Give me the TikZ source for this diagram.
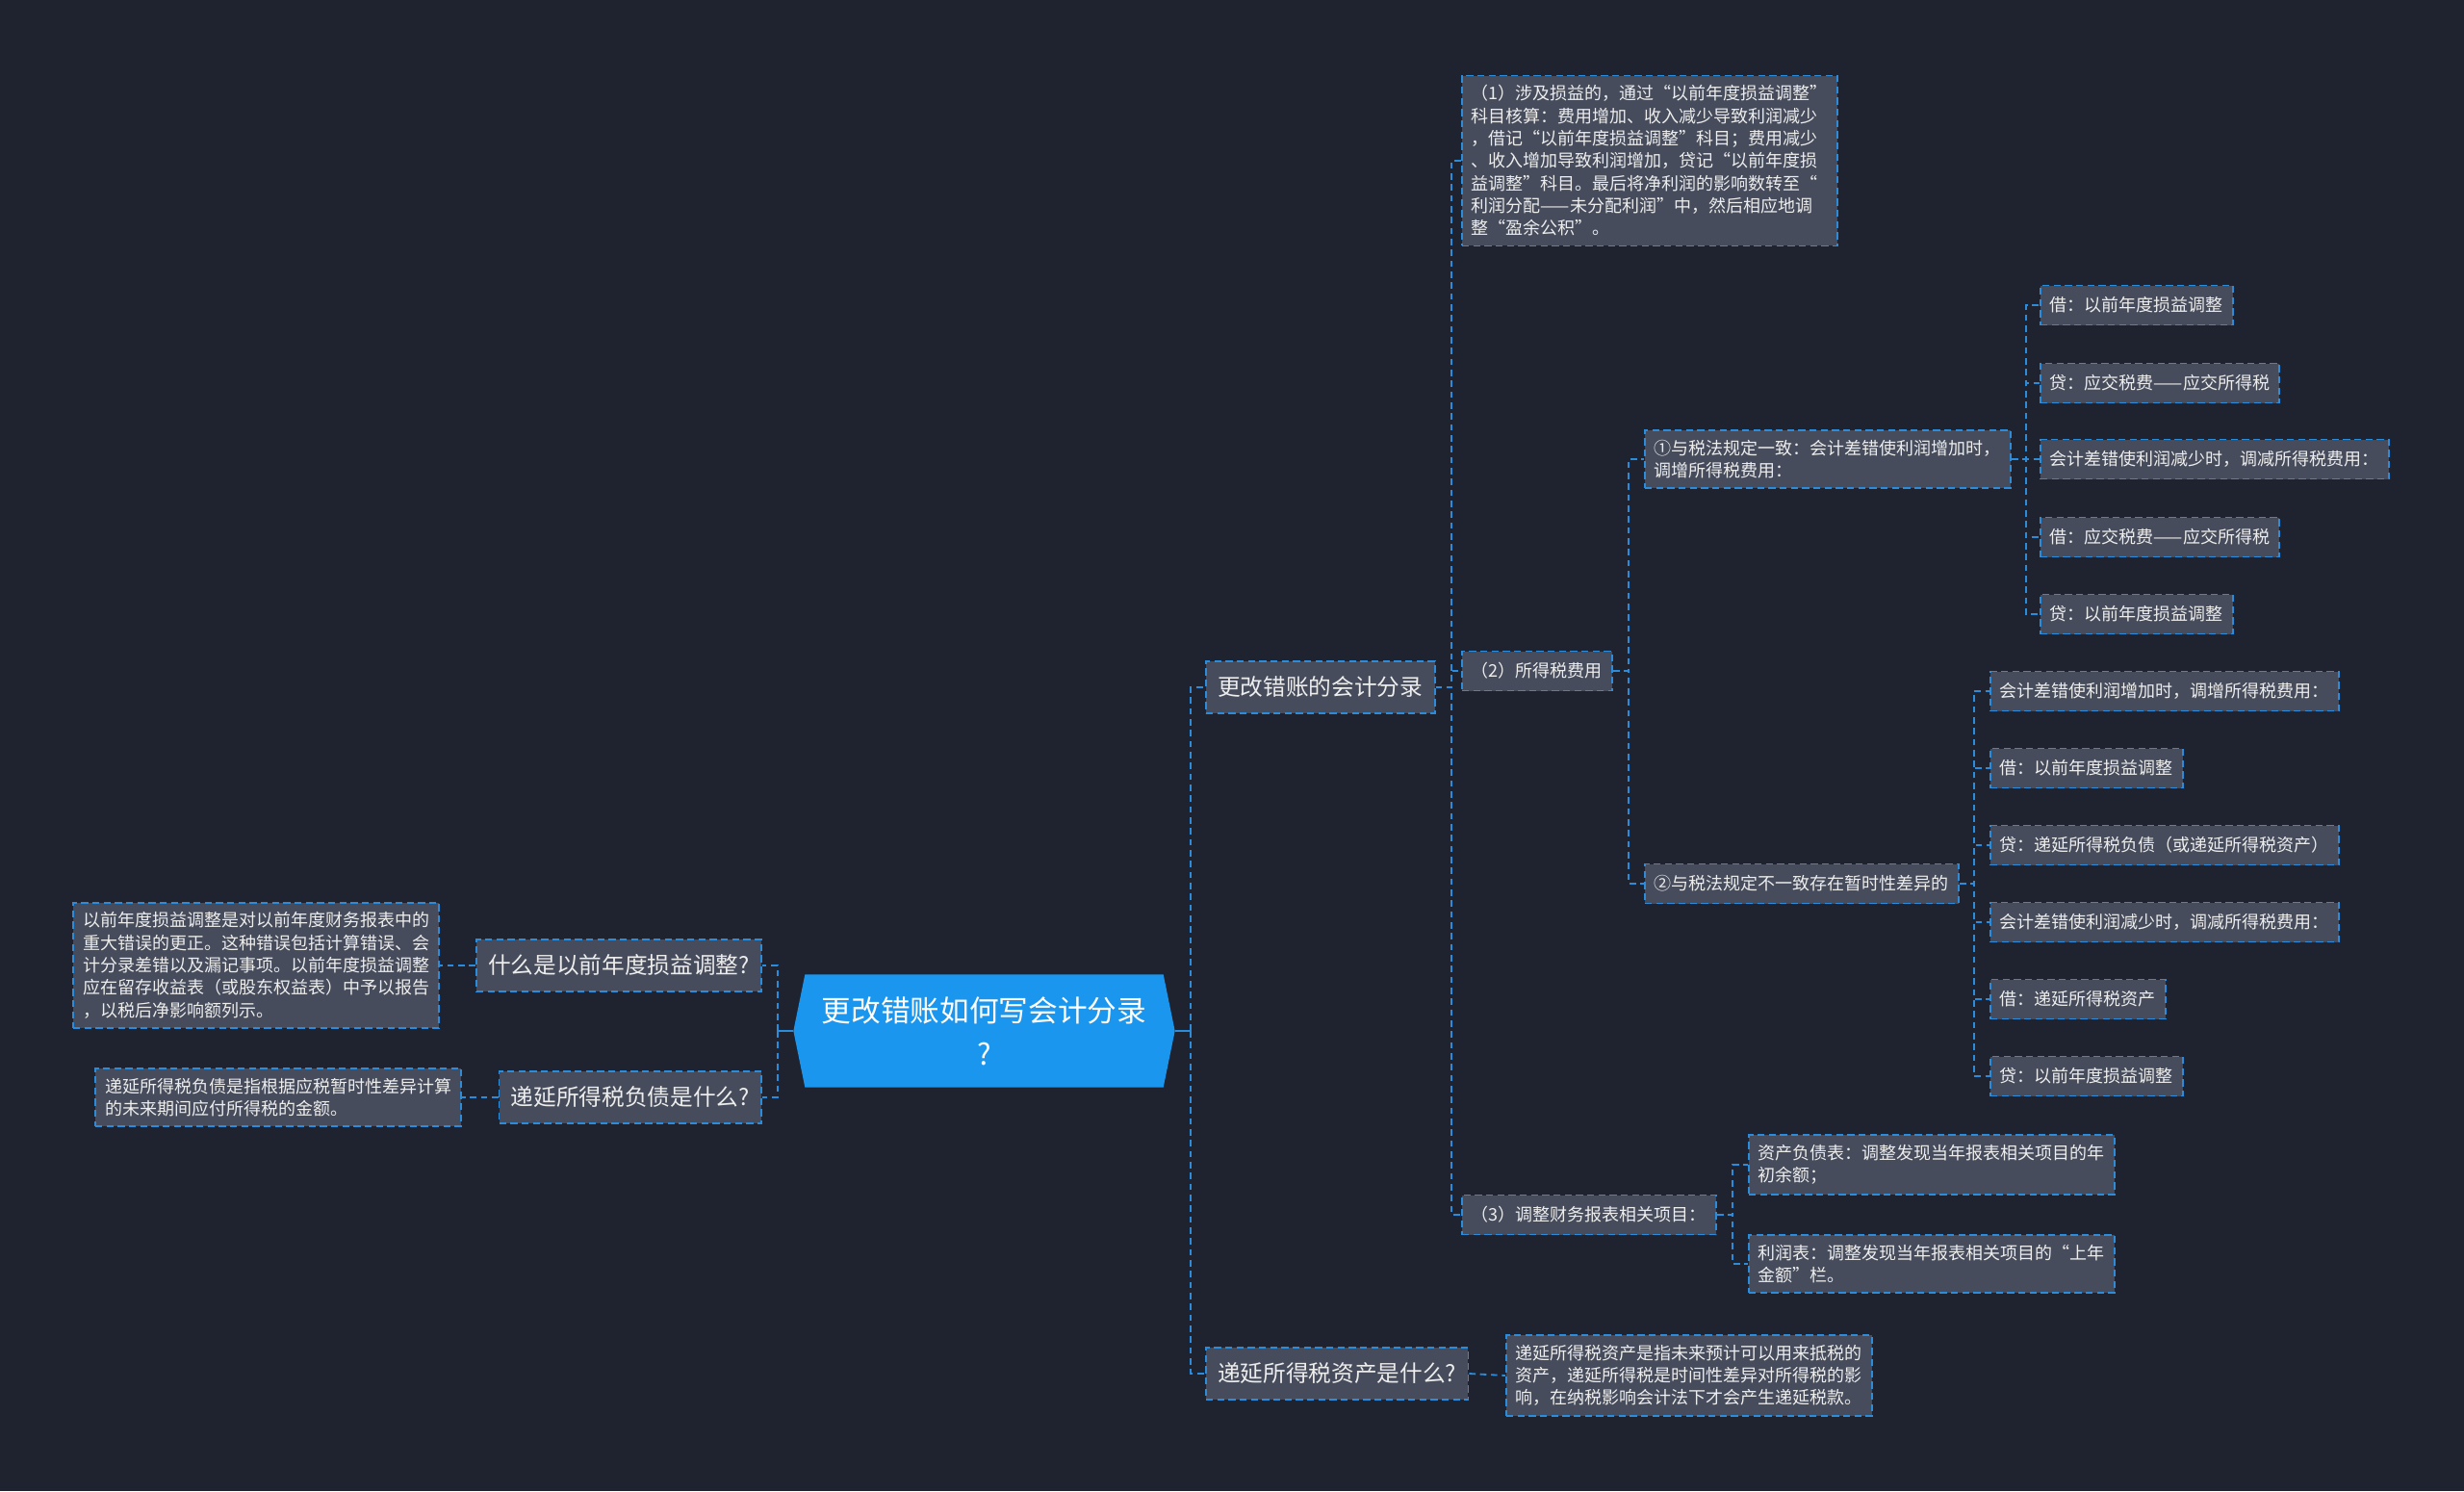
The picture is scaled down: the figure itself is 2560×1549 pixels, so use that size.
\documentclass[tikz,border=0pt]{standalone}
\usepackage{fontspec}
\newfontfamily\cjk{Noto Sans CJK SC}
\usepackage{xcolor}
\usetikzlibrary{backgrounds}

\definecolor{bgnavy}{HTML}{1F2330}
\definecolor{boxgray}{HTML}{464C5B}
\definecolor{linkblue}{HTML}{2B8CDB}
\definecolor{rootblue}{HTML}{1A96EE}
\definecolor{txtwhite}{HTML}{EDEDED}

\tikzset{
  basebox/.style={draw=linkblue, fill=boxgray, dash pattern=on 2.2pt off 1.3pt,
    line width=0.55pt, text=txtwhite, inner xsep=3pt, inner ysep=3pt, align=left},
  topicbox/.style={basebox, font=\cjk\fontsize{7.1pt}{9pt}\selectfont,
    minimum height=16.2pt, inner xsep=3.7pt},
  leafbox/.style={basebox, font=\cjk\fontsize{5.4pt}{7pt}\selectfont,
    minimum height=12.3pt},
  rootbox/.style={text=white, font=\cjk\fontsize{9.2pt}{13.5pt}\selectfont,
    minimum width=118.5pt, minimum height=34.8pt, align=center, inner sep=0pt},
  link/.style={draw=linkblue, dash pattern=on 2pt off 1.4pt, line width=0.55pt},
  rootlink/.style={draw=linkblue, line width=0.6pt}
}

\begin{document}
\begin{tikzpicture}[x=0.3pt,y=-0.3pt]

  % Root
  \node[rootbox] (root) at (1022.5,1071) {更改错账如何写会计分录\\?};

  % Background and root hexagon
  \begin{scope}[on background layer]
    \fill[bgnavy] (0,0) rectangle (2560,1549);
    \fill[rootblue] ([xshift=3.6pt]root.north west) -- ([xshift=-3.6pt]root.north east)
      -- (root.east) -- ([xshift=-3.6pt]root.south east)
      -- ([xshift=3.6pt]root.south west) -- (root.west) -- cycle;
  \end{scope}

  % Left topics
  \node[topicbox, anchor=east] (lq1) at (792,1003) {什么是以前年度损益调整?};
  \node[topicbox, anchor=east] (lq2) at (792,1140) {递延所得税负债是什么?};
  \node[leafbox, anchor=east] (ln1) at (457,1003) {以前年度损益调整是对以前年度财务报表中的\\
    重大错误的更正。这种错误包括计算错误、会\\
    计分录差错以及漏记事项。以前年度损益调整\\
    应在留存收益表（或股东权益表）中予以报告\\
    ，以税后净影响额列示。};
  \node[leafbox, anchor=east] (ln2) at (480,1140) {递延所得税负债是指根据应税暂时性差异计算\\
    的未来期间应付所得税的金额。};

  % Right topics
  \node[topicbox, anchor=west] (r1) at (1252,714) {更改错账的会计分录};
  \node[topicbox, anchor=west] (r2) at (1252,1427) {递延所得税资产是什么?};
  \node[leafbox, anchor=west] (r2n) at (1564,1429) {递延所得税资产是指未来预计可以用来抵税的\\
    资产，递延所得税是时间性差异对所得税的影\\
    响，在纳税影响会计法下才会产生递延税款。};

  % Second level
  \node[leafbox, anchor=west] (s1) at (1518,167) {（1）涉及损益的，通过“以前年度损益调整”\\
    科目核算：费用增加、收入减少导致利润减少\\
    ，借记“以前年度损益调整”科目；费用减少\\
    、收入增加导致利润增加，贷记“以前年度损\\
    益调整”科目。最后将净利润的影响数转至“\\
    利润分配——未分配利润”中，然后相应地调\\
    整“盈余公积”。};
  \node[leafbox, anchor=west] (s2) at (1518,697) {（2）所得税费用};
  \node[leafbox, anchor=west] (s3) at (1518,1262) {（3）调整财务报表相关项目：};

  % Third level
  \node[leafbox, anchor=west] (t1) at (1708,477) {①与税法规定一致：会计差错使利润增加时，\\调增所得税费用：};
  \node[leafbox, anchor=west] (t2) at (1708,918) {②与税法规定不一致存在暂时性差异的};
  \node[leafbox, anchor=west] (w1) at (1816,1210) {资产负债表：调整发现当年报表相关项目的年\\初余额；};
  \node[leafbox, anchor=west] (w2) at (1816,1313) {利润表：调整发现当年报表相关项目的“上年\\金额”栏。};

  % Leaves of (1)
  \node[leafbox, anchor=west] (u1) at (2119,317) {借：以前年度损益调整};
  \node[leafbox, anchor=west] (u2) at (2119,398) {贷：应交税费——应交所得税};
  \node[leafbox, anchor=west] (u3) at (2119,477) {会计差错使利润减少时，调减所得税费用：};
  \node[leafbox, anchor=west] (u4) at (2119,558) {借：应交税费——应交所得税};
  \node[leafbox, anchor=west] (u5) at (2119,638) {贷：以前年度损益调整};

  % Leaves of (2)
  \node[leafbox, anchor=west] (v1) at (2067,718) {会计差错使利润增加时，调增所得税费用：};
  \node[leafbox, anchor=west] (v2) at (2067,798) {借：以前年度损益调整};
  \node[leafbox, anchor=west] (v3) at (2067,878) {贷：递延所得税负债（或递延所得税资产）};
  \node[leafbox, anchor=west] (v4) at (2067,958) {会计差错使利润减少时，调减所得税费用：};
  \node[leafbox, anchor=west] (v5) at (2067,1038) {借：递延所得税资产};
  \node[leafbox, anchor=west] (v6) at (2067,1118) {贷：以前年度损益调整};

  % Connectors from root
  \coordinate (rjoin) at ([xshift=5pt]root.east);
  \coordinate (ljoin) at ([xshift=-5pt]root.west);
  \draw[rootlink] (root.east) -- (rjoin);
  \draw[rootlink] (root.west) -- (ljoin);
  \draw[link] (rjoin) |- (r1.west);
  \draw[link] (rjoin) |- (r2.west);
  \draw[link] (ljoin) |- (lq1.east);
  \draw[link] (ljoin) |- (lq2.east);

  % Topic notes
  \draw[link] (lq1.west) -- (ln1.east);
  \draw[link] (lq2.west) -- (ln2.east);
  \draw[link] (r2.east) -- (r2n.west);

  % Inner branches
  \foreach \kid in {s1,s2,s3}
    \draw[link] (r1.east) -- ++(5pt,0) |- (\kid.west);
  \foreach \kid in {t1,t2}
    \draw[link] (s2.east) -- ++(4.8pt,0) |- (\kid.west);
  \foreach \kid in {w1,w2}
    \draw[link] (s3.east) -- ++(4.8pt,0) |- (\kid.west);
  \foreach \kid in {u1,u2,u3,u4,u5}
    \draw[link] (t1.east) -- ++(4.5pt,0) |- (\kid.west);
  \foreach \kid in {v1,v2,v3,v4,v5,v6}
    \draw[link] (t2.east) -- ++(4.5pt,0) |- (\kid.west);

\end{tikzpicture}
\end{document}
